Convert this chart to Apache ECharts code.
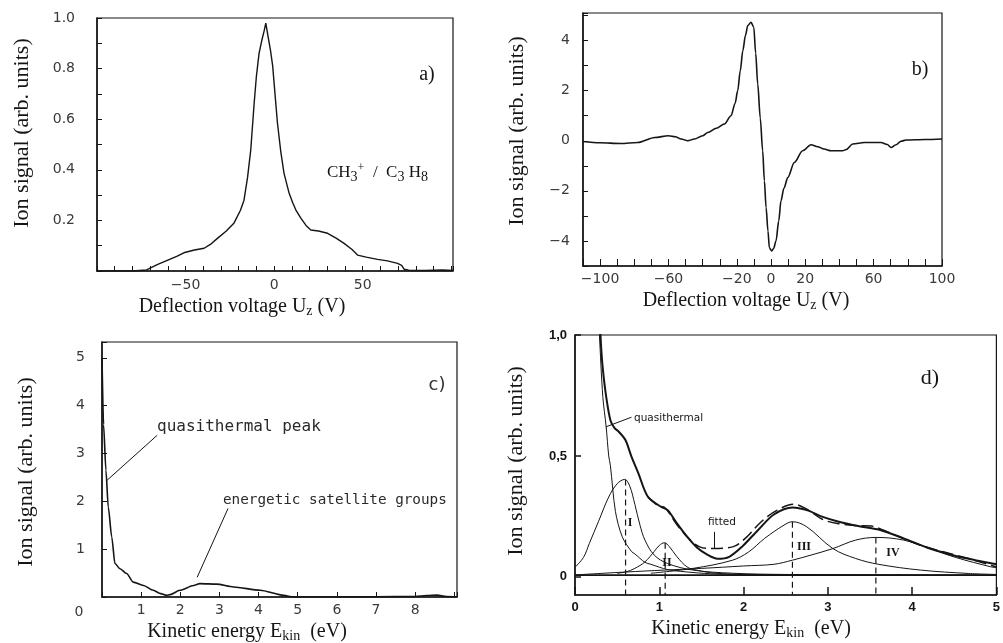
<!DOCTYPE html>
<html>
<head>
<meta charset="utf-8">
<title>Ion signal</title>
<script src="https://cdn.jsdelivr.net/npm/echarts@6/dist/echarts.min.js"></script>
<style>
    html, body { margin: 0; padding: 0; background: #fff; }
    #main { width: 1003px; height: 643px; }
</style>
</head>
<body>
<div id="main"></div>
<script>
// a) ion signal vs deflection voltage
var aX = [-100, -80, -72, -66, -60, -55, -51, -45, -39.5, -36, -32, -27, -22.6, -19, -17, -15, -13.2, -11.3, -10, -8.5, -7, -5.6, -4.7, -3.5, -2, -0.8, 0.5, 1.9, 3.8, 5.6, 8.5, 10.5, 12.3, 15, 18, 20.7, 25, 30.2, 35, 39.5, 44, 47.1, 52, 58.4, 64, 69.7, 72, 73.4, 76, 85, 95, 101];
var aY = [0, 0, 0.004, 0.025, 0.043, 0.058, 0.072, 0.083, 0.09, 0.105, 0.129, 0.158, 0.19, 0.24, 0.28, 0.37, 0.478, 0.66, 0.77, 0.86, 0.91, 0.95, 0.98, 0.93, 0.87, 0.81, 0.7, 0.584, 0.47, 0.386, 0.307, 0.27, 0.241, 0.21, 0.18, 0.162, 0.158, 0.149, 0.13, 0.109, 0.085, 0.063, 0.055, 0.046, 0.04, 0.03, 0.022, 0.007, 0.003, 0.002, 0.004, 0.002];
var aXTicks = [-50, 0, 50];
var aYTicks = [0.2, 0.4, 0.6, 0.8, 1.0];

// b) derivative-like signal
var bX = [-110, -100, -88, -78, -68, -60, -56, -52.6, -48.7, -44.8, -40, -37, -32, -27.3, -23.4, -21, -19.5, -18, -16.5, -15, -13.6, -11.7, -10.1, -9, -7.8, -6.3, -4.9, -3.9, -2.9, -1.8, -1, 0.4, 1.5, 2.9, 4.5, 5.8, 7.5, 9.8, 13.6, 18.5, 23.4, 27.3, 31, 35.1, 41.9, 44, 47.8, 54.6, 64.3, 68, 70.2, 73.1, 76, 79, 90, 100];
var bY = [-0.03, -0.08, -0.11, -0.07, 0.13, 0.2, 0.16, 0.07, 0.0, 0.07, 0.2, 0.33, 0.5, 0.67, 1.0, 1.5, 2.0, 2.8, 3.6, 4.2, 4.6, 4.73, 4.53, 3.5, 2.27, 0.9, -0.4, -1.6, -2.67, -3.6, -4.27, -4.4, -4.3, -4.0, -3.2, -2.4, -1.9, -1.47, -0.87, -0.4, -0.16, -0.24, -0.33, -0.4, -0.4, -0.35, -0.13, -0.07, -0.07, -0.15, -0.27, -0.16, -0.02, 0.03, 0.05, 0.07];
var bXTicks = [-100, -60, -20, 0, 20, 60, 100];
var bYTicks = [-4, -2, 0, 2, 4];

// c) kinetic energy spectrum
var cX = [0, 0.04, 0.1, 0.16, 0.25, 0.33, 0.46, 0.63, 0.8, 1.06, 1.31, 1.5, 1.65, 1.74, 1.99, 2.34, 2.5, 2.93, 3.36, 4.04, 4.64, 4.89, 6, 7, 8, 8.3, 8.56, 8.8, 9.07];
var cY = [5.0, 3.6, 2.65, 1.88, 1.25, 0.7, 0.59, 0.49, 0.31, 0.24, 0.14, 0.07, 0.035, 0.05, 0.14, 0.24, 0.28, 0.27, 0.21, 0.14, 0.035, 0.0, 0.0, 0.005, 0.01, 0.03, 0.04, 0.01, 0.0];
var cXTicks = [1, 2, 3, 4, 5, 6, 7, 8];
var cYTicks = [1, 2, 3, 4, 5];
// leader lines [x1, y1, x2, y2]
var cLeaders = [[1.41, 3.38, 0.13, 2.44], [3.22, 1.85, 2.43, 0.41]];

// d) decomposition of the spectrum
var dMeasX = [0.29, 0.31, 0.33, 0.37, 0.42, 0.47, 0.52, 0.6, 0.67, 0.75, 0.865, 1.02, 1.1, 1.21, 1.33, 1.45, 1.56, 1.69, 1.83, 1.98, 2.17, 2.36, 2.58, 2.75, 2.94, 3.13, 3.36, 3.63, 3.9, 4.21, 4.52, 4.75, 5.0];
var dMeasY = [1.1, 0.95, 0.86, 0.745, 0.648, 0.615, 0.6, 0.565, 0.497, 0.43, 0.331, 0.29, 0.276, 0.221, 0.166, 0.12, 0.094, 0.075, 0.083, 0.124, 0.193, 0.258, 0.287, 0.276, 0.248, 0.228, 0.21, 0.193, 0.159, 0.117, 0.086, 0.069, 0.052];
var dFitX = [0.865, 0.98, 1.07, 1.2, 1.33, 1.48, 1.63, 1.87, 2.02, 2.21, 2.4, 2.6, 2.75, 2.94, 3.13, 3.35, 3.52, 3.63, 4.1, 4.67, 5.0];
var dFitY = [0.331, 0.295, 0.285, 0.22, 0.166, 0.124, 0.117, 0.124, 0.159, 0.228, 0.276, 0.3, 0.28, 0.237, 0.22, 0.212, 0.21, 0.197, 0.131, 0.076, 0.041];
var dQuasiX = [0.28, 0.29, 0.33, 0.37, 0.4, 0.42, 0.48, 0.56, 0.67, 0.71, 0.83, 0.9, 1.1, 1.4, 1.67, 2.5, 5.0];
var dQuasiY = [1.1, 1.0, 0.745, 0.62, 0.5, 0.46, 0.27, 0.166, 0.105, 0.095, 0.06, 0.052, 0.03, 0.018, 0.012, 0.009, 0.007];
var dIX = [0, 0.1, 0.17, 0.28, 0.4, 0.5, 0.59, 0.65, 0.71, 0.77, 0.83, 0.94, 1.1, 1.4, 1.87, 2.5, 5];
var dIY = [0.04, 0.08, 0.138, 0.23, 0.33, 0.385, 0.403, 0.375, 0.3, 0.215, 0.152, 0.09, 0.055, 0.028, 0.015, 0.01, 0.006];
var dIIX = [0.5, 0.6, 0.71, 0.83, 0.94, 1.0, 1.06, 1.12, 1.21, 1.33, 1.44, 1.67, 2.2, 5];
var dIIY = [0.015, 0.02, 0.035, 0.062, 0.105, 0.13, 0.141, 0.125, 0.083, 0.041, 0.028, 0.015, 0.008, 0.006];
var dIIIX = [0.9, 1.4, 1.87, 2.06, 2.25, 2.48, 2.58, 2.75, 3.06, 3.33, 3.6, 4.1, 4.67, 5];
var dIIIY = [0.015, 0.035, 0.069, 0.103, 0.159, 0.214, 0.228, 0.207, 0.117, 0.076, 0.052, 0.028, 0.014, 0.01];
var dIVX = [0, 0.6, 1.06, 1.5, 2.0, 2.36, 2.58, 2.8, 3.06, 3.33, 3.57, 3.9, 4.21, 4.52, 4.94, 5];
var dIVY = [0.008, 0.02, 0.028, 0.035, 0.045, 0.052, 0.069, 0.09, 0.117, 0.152, 0.163, 0.152, 0.117, 0.08, 0.041, 0.038];
var dBaseX = [0, 5];
var dBaseY = [0.007, 0.007];
var dPeakX = [0.6, 1.07, 2.58, 3.57];
var dPeakY = [0.403, 0.141, 0.228, 0.163];
var dXTicks = [0, 1, 2, 3, 4, 5];
var dYTicks = [0, 0.5, 1.0];
var dYLabels = ['0', '0,5', '1,0'];
var dLeaders = [[0.67, 0.66, 0.365, 0.62], [1.65, 0.186, 1.65, 0.119]];

var INK = '#151515';
var SERIF = '"Liberation Serif", "DejaVu Serif", serif';
var SANS = '"DejaVu Sans", sans-serif';
var MONO = '"DejaVu Sans Mono", monospace';

function pairs(xs, ys) {
    return xs.map(function (x, i) { return [x, ys[i]]; });
}

function hasTick(list, v) {
    for (var i = 0; i < list.length; i++) {
        if (Math.abs(list[i] - v) < 1e-6) return i;
    }
    return -1;
}

// formatter that only writes the labelled ticks
function tickFmt(list, digits) {
    return function (v) {
        if (hasTick(list, v) < 0) return '';
        var s = digits ? v.toFixed(digits) : String(v);
        return s.replace('-', '\u2212');
    };
}

function leaderLines(list) {
    return list.map(function (l) {
        return [{ coord: [l[0], l[1]] }, { coord: [l[2], l[3]] }];
    });
}

function curve(name, xi, xs, ys, width, extra) {
    var s = {
        name: name,
        type: 'line',
        xAxisIndex: xi,
        yAxisIndex: xi,
        data: pairs(xs, ys),
        showSymbol: false,
        symbol: 'none',
        lineStyle: { color: INK, width: width },
        silent: true,
        z: 3
    };
    for (var k in extra) s[k] = extra[k];
    return s;
}

var chart = echarts.init(document.getElementById('main'));

var gridStyle = { show: true, borderColor: INK, borderWidth: 1.2 };
// axis lines stay on the frame, not on zero
var axLine = { show: true, onZero: false, lineStyle: { color: INK, width: 1.5 } };
var tickLbl = { color: '#3a3a3a', fontFamily: SANS, fontSize: 14 };

var xAxes = [
    {
        gridIndex: 0, type: 'value', min: -100, max: 101, interval: 10,
        axisLine: axLine, splitLine: { show: false },
        axisTick: { inside: true, length: 5, lineStyle: { color: INK } },
        axisLabel: Object.assign({ margin: 7, formatter: tickFmt(aXTicks) }, tickLbl)
    },
    {
        gridIndex: 1, type: 'value', min: -110, max: 100, interval: 10,
        axisLine: axLine, splitLine: { show: false },
        axisTick: { inside: true, length: 7, lineStyle: { color: INK } },
        axisLabel: Object.assign({ margin: 6, formatter: tickFmt(bXTicks) }, tickLbl)
    },
    {
        gridIndex: 2, type: 'value', min: 0, max: 9.07, interval: 1,
        axisLine: axLine, splitLine: { show: false },
        axisTick: { inside: true, length: 5, lineStyle: { color: INK } },
        axisLabel: Object.assign({ margin: 6, formatter: tickFmt(cXTicks) }, tickLbl)
    },
    {
        gridIndex: 3, type: 'value', min: 0, max: 5, interval: 1,
        axisLine: axLine, splitLine: { show: false },
        axisTick: { inside: true, length: 8, lineStyle: { color: INK, width: 1.5 } },
        axisLabel: { margin: 6, formatter: tickFmt(dXTicks), color: INK, fontFamily: '"Liberation Sans", sans-serif', fontWeight: 'bold', fontSize: 13 }
    }
];

var yAxes = [
    {
        gridIndex: 0, type: 'value', min: 0, max: 1.0, interval: 0.1,
        axisLine: axLine, splitLine: { show: false },
        axisTick: { inside: true, length: 5, lineStyle: { color: INK } },
        axisLabel: Object.assign({ margin: 22, formatter: tickFmt(aYTicks, 1) }, tickLbl)
    },
    {
        gridIndex: 1, type: 'value', min: -5, max: 5.1, interval: 1,
        axisLine: axLine, splitLine: { show: false },
        axisTick: { inside: true, length: 5, lineStyle: { color: INK } },
        axisLabel: Object.assign({ margin: 13, formatter: tickFmt(bYTicks) }, tickLbl)
    },
    {
        gridIndex: 2, type: 'value', min: 0, max: 5.33, interval: 1,
        axisLine: axLine, splitLine: { show: false },
        axisTick: { inside: true, length: 5, lineStyle: { color: INK } },
        axisLabel: Object.assign({ margin: 17, formatter: tickFmt(cYTicks) }, tickLbl)
    },
    {
        gridIndex: 3, type: 'value', min: -0.075, max: 1.0,
        axisLine: axLine, splitLine: { show: false },
        axisTick: { inside: true, length: 6, customValues: dYTicks, lineStyle: { color: INK, width: 1.5 } },
        axisLabel: {
            margin: 8, customValues: dYTicks, color: INK,
            fontFamily: '"Liberation Sans", sans-serif', fontWeight: 'bold', fontSize: 13,
            formatter: function (v) { var i = hasTick(dYTicks, v); return i < 0 ? '' : dYLabels[i]; }
        }
    }
];

var leaderStyle = { color: INK, width: 1, type: 'solid' };

var series = [
    curve('a', 0, aX, aY, 1.4),
    curve('b', 1, bX, bY, 1.6, { smooth: 0.3, smoothMonotone: 'x' }),
    curve('c', 2, cX, cY, 1.6, {
        smooth: 0.25, smoothMonotone: 'x',
        markLine: { silent: true, symbol: ['none', 'none'], label: { show: false }, lineStyle: leaderStyle, data: leaderLines(cLeaders) }
    }),
    curve('baseline', 3, dBaseX, dBaseY, 1.6),
    curve('quasithermal', 3, dQuasiX, dQuasiY, 1, {
        smooth: 0.3,
        markLine: { silent: true, symbol: ['none', 'none'], label: { show: false }, lineStyle: leaderStyle, data: leaderLines(dLeaders) }
    }),
    curve('I', 3, dIX, dIY, 1, { smooth: 0.35 }),
    curve('II', 3, dIIX, dIIY, 1, { smooth: 0.35 }),
    curve('III', 3, dIIIX, dIIIY, 1, { smooth: 0.35 }),
    curve('IV', 3, dIVX, dIVY, 1, { smooth: 0.35 }),
    curve('measured', 3, dMeasX, dMeasY, 2, { smooth: 0.3 }),
    curve('fitted', 3, dFitX, dFitY, 1.5, { smooth: 0.35, lineStyle: { color: INK, width: 1.5, type: [12, 5] } })
];

// dashed drop lines under the peaks
dPeakX.forEach(function (x, i) {
    series.push(curve('peak' + i, 3, [x, x], [dPeakY[i], -0.075], 1.2, {
        lineStyle: { color: INK, width: 1.2, type: [6, 4] }
    }));
});

function txt(x, y, text, font, extra) {
    var style = { text: text, font: font, fill: INK, textAlign: 'center', textVerticalAlign: 'middle' };
    var el = { type: 'text', x: x, y: y, silent: true, style: style };
    for (var k in extra) {
        if (k === 'style') { for (var j in extra.style) style[j] = extra.style[j]; }
        else el[k] = extra[k];
    }
    return el;
}

var yTitle = 'Ion signal (arb. units)';
var subRich = {
    sub: { fontSize: 14, fontFamily: SERIF, padding: [9, 0, 0, 0] },
    sup: { fontSize: 12, fontFamily: SERIF, padding: [0, 0, 10, 0] }
};
var ROT = Math.PI / 2;

var graphics = [
    // axis titles
    txt(22, 133, yTitle, '22px ' + SERIF, { rotation: ROT }),
    txt(517, 131, yTitle, '22px ' + SERIF, { rotation: ROT }),
    txt(26, 472, yTitle, '22px ' + SERIF, { rotation: ROT }),
    txt(516, 461, yTitle, '22px ' + SERIF, { rotation: ROT }),
    txt(242, 307, 'Deflection voltage U{sub|z} (V)', '20px ' + SERIF, { style: { rich: subRich } }),
    txt(746, 301, 'Deflection voltage U{sub|z} (V)', '20px ' + SERIF, { style: { rich: subRich } }),
    txt(247, 632, 'Kinetic energy E{sub|kin}  (eV)', '20px ' + SERIF, { style: { rich: subRich } }),
    txt(751, 629, 'Kinetic energy E{sub|kin}  (eV)', '20px ' + SERIF, { style: { rich: subRich } }),
    // panel tags
    txt(427, 75, 'a)', '20px ' + SERIF),
    txt(920, 70, 'b)', '20px ' + SERIF),
    txt(437, 385, 'c)', '18px ' + SANS, { style: { fill: '#333' } }),
    txt(930, 378, 'd)', '22px ' + SERIF),
    txt(327, 173, 'CH{sub|3}{sup|+}  /  C{sub|3} H{sub|8}', '17px ' + SERIF, { style: { textAlign: 'left', rich: subRich } }),
    // corner zero of panel c
    txt(79, 612, '0', '14px ' + SANS, { style: { fill: '#3a3a3a' } }),
    // annotations
    txt(157, 427, 'quasithermal peak', '16px ' + MONO, { style: { textAlign: 'left', fill: '#2a2a2a' } }),
    txt(223, 500, 'energetic satellite groups', '14.3px ' + MONO, { style: { textAlign: 'left', fill: '#2a2a2a' } }),
    txt(634, 418, 'quasithermal', '10.5px ' + SANS, { style: { textAlign: 'left' } }),
    txt(708, 522, 'fitted', '10.5px ' + SANS, { style: { textAlign: 'left' } }),
    txt(630, 523, 'I', 'bold 12px ' + SERIF),
    txt(667, 563, 'II', 'bold 12px ' + SERIF),
    txt(804, 547, 'III', 'bold 12px ' + SERIF),
    txt(893, 553, 'IV', 'bold 12px ' + SERIF)
];

var option = {
    animation: false,
    backgroundColor: '#fff',
    grid: [
        Object.assign({ left: 97, top: 18, width: 356, height: 253 }, gridStyle),
        Object.assign({ left: 583, top: 13, width: 359, height: 253 }, gridStyle),
        Object.assign({ left: 102, top: 342, width: 355, height: 255 }, gridStyle),
        Object.assign({ left: 575, top: 335, width: 428, height: 260 }, gridStyle)
    ],
    xAxis: xAxes,
    yAxis: yAxes,
    series: series,
    graphic: graphics
};

chart.setOption(option);
</script>
</body>
</html>
